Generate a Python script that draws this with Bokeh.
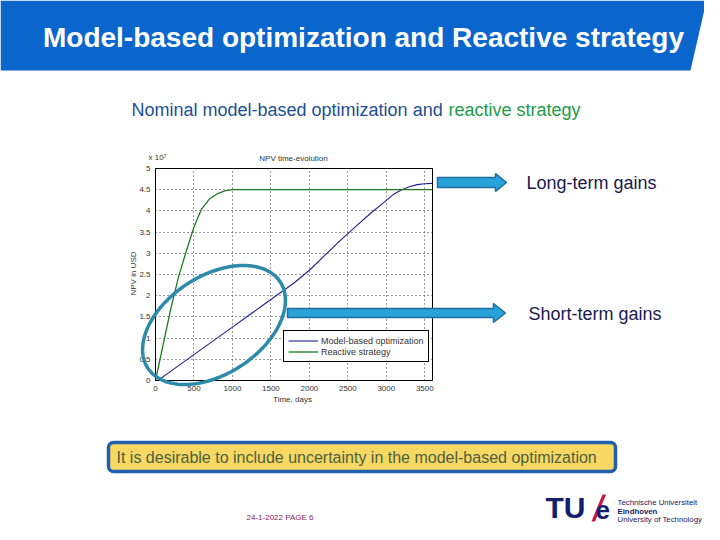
import numpy as np
from bokeh.plotting import figure
from bokeh.models import (Range1d, FixedTicker, NumeralTickFormatter, Label,
                          PolyAnnotation, BoxAnnotation, Legend, LegendItem,
                          LinearAxis)
from bokeh.embed import file_html
from bokeh.resources import INLINE

# ---------------- data (NPV in units of 1e7 USD) ----------------
model_days = [0, 30, 200, 400, 600, 800, 1000, 1200, 1400, 1600, 1800, 2000,
              2200, 2400, 2600, 2800, 3000, 3100, 3200, 3300, 3400, 3500, 3600]
model_npv = [0.0, 0.0, 0.22, 0.48, 0.74, 1.0, 1.26, 1.52, 1.78, 2.04, 2.3, 2.6,
             2.95, 3.3, 3.63, 3.95, 4.25, 4.4, 4.5, 4.57, 4.62, 4.64, 4.65]
reactive_days = [0, 100, 200, 300, 400, 500, 600, 700, 800, 900, 1000, 3600]
reactive_npv = [0.0, 0.85, 1.7, 2.45, 3.05, 3.62, 4.05, 4.28, 4.4, 4.47, 4.5, 4.5]
x_ticks = [0, 500, 1000, 1500, 2000, 2500, 3000, 3500]
y_ticks = [0, 0.5, 1, 1.5, 2, 2.5, 3, 3.5, 4, 4.5, 5]
series_names = ["Model-based optimization", "Reactive strategy"]

# ---------------- layout ----------------
W, H = 704, 524
FX0, FX1 = 155, 432   # canvas x of x=0 and x=3600
FY0, FY1 = 380, 168   # canvas y of y=0 and y=5
XMAX, YMAX = 3600, 5
kx = XMAX / (FX1 - FX0)
ky = YMAX / (FY0 - FY1)
FONT = "Liberation Sans"

p = figure(width=W, height=H, output_backend="svg", toolbar_location=None,
           x_range=Range1d(0, W), y_range=Range1d(H, 0),
           x_axis_location=None, y_axis_location=None, min_border=0,
           background_fill_color="white", border_fill_color="white")
p.outline_line_color = None
p.grid.visible = False
p.extra_x_ranges = {"cx": Range1d(-FX0 * kx, XMAX + (W - FX1) * kx)}
p.extra_y_ranges = {"cy": Range1d(-(H - FY0) * ky, YMAX + FY1 * ky)}

common = dict(x_range_name="cx", y_range_name="cy", fixed_location=0,
              major_tick_out=0, minor_tick_line_color=None,
              axis_line_color="black", major_tick_line_color="#3a3a3a",
              major_tick_line_dash="1 3", major_label_text_font_size="8px",
              major_label_text_color="#333333", major_label_text_font=FONT,
              level="underlay")
xax = LinearAxis(bounds=(0, XMAX), ticker=FixedTicker(ticks=x_ticks),
                 formatter=NumeralTickFormatter(format="0"),
                 major_tick_in=FY0 - FY1, major_label_standoff=5, **common)
yax = LinearAxis(bounds=(0, YMAX), ticker=FixedTicker(ticks=y_ticks),
                 formatter=NumeralTickFormatter(format="0.[0]"),
                 major_tick_in=FX1 - FX0, major_label_standoff=5, **common)
p.add_layout(xax, "below")
p.add_layout(yax, "left")

r1 = p.line(model_days, model_npv, line_color="#1f1f8f", line_width=1.1,
            x_range_name="cx", y_range_name="cy")
r2 = p.line(reactive_days, reactive_npv, line_color="#1e7a1e", line_width=1.3,
            x_range_name="cx", y_range_name="cy")

# axes box
p.add_layout(BoxAnnotation(left=0, right=XMAX, bottom=0, top=YMAX,
                           x_range_name="cx", y_range_name="cy",
                           fill_color=None, fill_alpha=0, line_color="black",
                           line_alpha=1, line_width=1))

legend = Legend(items=[LegendItem(label=series_names[0], renderers=[r1]),
                       LegendItem(label=series_names[1], renderers=[r2])],
                location=(283, H - 362), border_line_color="black",
                border_line_width=1, border_line_alpha=1,
                background_fill_color="white", background_fill_alpha=1,
                label_text_font_size="9px", label_text_font=FONT,
                label_text_color="#333333", glyph_width=30, glyph_height=11,
                label_height=11, padding=4, spacing=0, margin=0,
                label_standoff=3)
p.add_layout(legend)


def label(text, px, py, size, color, style="normal", align="left",
          angle=0.0):
    p.add_layout(Label(x=px, y=py, text=text, text_font_size=f"{size}px",
                       text_color=color, text_font_style=style,
                       text_align=align, text_baseline="middle",
                       text_font=FONT, angle=angle))


def poly(points, fill, line=None, lw=1.0, fill_alpha=1.0):
    p.add_layout(PolyAnnotation(xs=[float(a) for a, b in points],
                                ys=[float(b) for a, b in points],
                                fill_color=fill, fill_alpha=fill_alpha,
                                line_color=line, line_alpha=1, line_width=lw))


# chart texts
label("NPV time-evolution", 293, 158, 8, "#333333", align="center")
label("x 10\u2077", 148, 157, 8, "#333333")
label("Time, days", 292, 399, 8, "#333333", align="center")
label("NPV in USD", 133, 273, 8, "#333333", align="center", angle=np.pi / 2)

# header band
poly([(0, 0), (706, 0), (690, 70), (0, 70)], "#0a66cc")
label("Model-based optimization and Reactive strategy", 363, 37, 28, "white",
      style="bold", align="center")

# subtitle
label("Nominal model-based optimization and ", 131, 109, 18, "#1d4f94")
label("reactive strategy", 448, 109, 18, "#239a48")

# ellipse highlight
t = np.linspace(0, 2 * np.pi, 140)
cx, cy, a, b, th = 213.5, 324.5, 79, 49, np.deg2rad(33)
ex = cx + a * np.cos(t) * np.cos(th) - b * np.sin(t) * np.sin(th)
ey = cy - (a * np.cos(t) * np.sin(th) + b * np.sin(t) * np.cos(th))
poly(list(zip(ex, ey)), None, "#2c8aaa", 3.5, 0)

# arrows
poly([(437, 177), (495, 177), (495, 173), (506, 182), (495, 191), (495, 187),
      (437, 187)], "#29a2da", "#1d6e9c", 1.5)
poly([(287, 308), (493, 308), (493, 303), (505, 312.5), (493, 322), (493, 317),
      (287, 317)], "#29a2da", "#1d6e9c", 1.5)
label("Long-term gains", 526, 182, 18, "#1a1a4e")
label("Short-term gains", 528, 313, 18, "#1a1a4e")

# conclusion box
p.add_layout(BoxAnnotation(left=108, right=615, top=442, bottom=471,
                           fill_color="#f7d862", fill_alpha=1,
                           line_color="#1f5fae", line_alpha=1, line_width=3.5,
                           border_radius=5))
label("It is desirable to include uncertainty in the model-based optimization",
      116, 457, 16, "#4d6040")

# footer
label("24-1-2022   PAGE 6", 246, 517, 8, "#8a1d5c")
label("TU", 545, 507, 30, "#13206b", style="bold")
poly([(591, 521), (594.5, 521), (605.5, 494), (602, 494)], "#c8143c")
label("e", 595, 509, 26, "#13206b", style="bold")
label("Technische Universiteit", 617, 502, 7.8, "#1a2060")
label("Eindhoven", 617, 510.5, 7.8, "#1a2060", style="bold")
label("University of Technology", 617, 519, 7.8, "#1a2060")

open("out.html", "w").write(file_html(p, INLINE))
